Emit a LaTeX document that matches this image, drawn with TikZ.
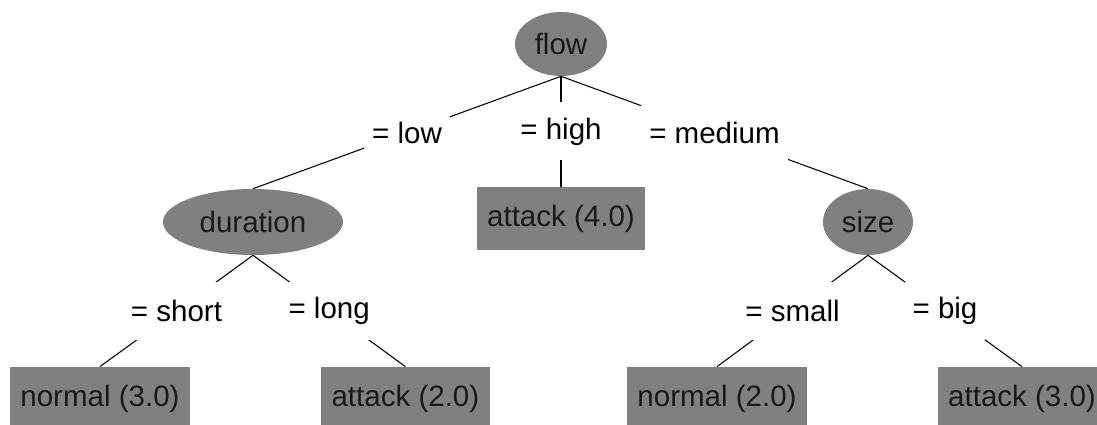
\documentclass[tikz,border=0pt]{standalone}
\usepackage{fontspec}
\setmainfont{Liberation Sans}
\usepackage{tikz}
\usetikzlibrary{positioning,shapes,calc}
\definecolor{nodegray}{RGB}{128,128,128}
\definecolor{inkgray}{RGB}{25,25,25}
\tikzstyle{attr}=[ellipse, fill=nodegray, inner sep=0pt, text=inkgray]
\tikzstyle{leaf}=[rectangle, fill=nodegray, minimum height=1.575cm, inner xsep=0.26cm, text=inkgray]
\tikzstyle{value}=[fill=white, minimum height=1.45cm, inner xsep=0.2cm, inner ysep=0pt]
\tikzstyle{branch}=[-, line width=0.75pt]

\begin{document}
\begin{tikzpicture}[node distance=4.45cm, font=\fontsize{21}{25}\selectfont]
        \useasboundingbox (-14.025,-9.525) rectangle (13.4,1.1);
        \clip (-14.025,-9.525) rectangle (13.4,1.1);

        \node (flow) [attr, minimum width=2.3cm, minimum height=1.6cm] at (0,0) {flow};
        \node (duration) [attr, below of=flow, xshift=-7.7cm, minimum width=4.5cm, minimum height=1.65cm] {duration};
        \node (attack4) [leaf, below of=flow, node distance=4.36cm] {attack (4.0)};
        \node (size) [attr, below of=flow, xshift=7.675cm, minimum width=2.25cm, minimum height=1.65cm] {size};

        % duration subtree
        \node (normal3) [leaf, below of=duration, node distance=4.41cm, xshift=-3.825cm] {normal (3.0)};
        \node (attack2) [leaf, below of=duration, node distance=4.41cm, xshift=3.81cm] {attack (2.0)};

        % size subtree
        \node (normal2) [leaf, below of=size, node distance=4.41cm, xshift=-3.775cm] {normal (2.0)};
        \node (attack3) [leaf, below of=size, node distance=4.41cm, xshift=3.85cm] {attack (3.0)};

        \draw[branch] (flow.south) -- node[value] {= low} (duration.north);
        \draw[branch] (flow.south) -- node[value] {= high} (attack4.north);
        \draw[branch] (flow.south) -- node[value] {= medium} (size.north);

        \draw[branch] (duration.south) -- node[value] {= short} (normal3.north);
        \draw[branch] (duration.south) -- node[value] {= long} (attack2.north);

        \draw[branch] (size.south) -- node[value] {= small} (normal2.north);
        \draw[branch] (size.south) -- node[value] {= big} (attack3.north);

\end{tikzpicture}
\end{document}
